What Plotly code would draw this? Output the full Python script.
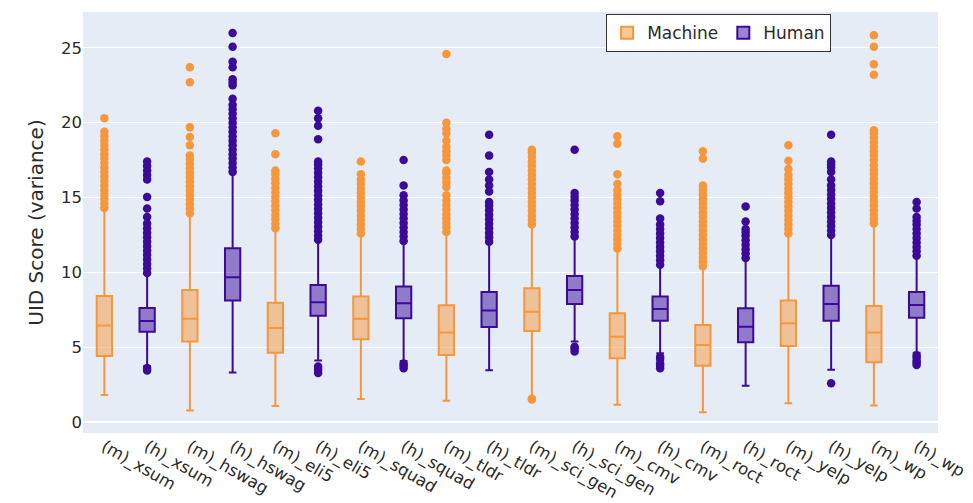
import plotly.graph_objects as go

m_labels = ["(m)_xsum", "(m)_hswag", "(m)_eli5", "(m)_squad", "(m)_tldr",
            "(m)_sci_gen", "(m)_cmv", "(m)_roct", "(m)_yelp", "(m)_wp"]
h_labels = ["(h)_xsum", "(h)_hswag", "(h)_eli5", "(h)_squad", "(h)_tldr",
            "(h)_sci_gen", "(h)_cmv", "(h)_roct", "(h)_yelp", "(h)_wp"]
category_order = [lab for pair in zip(m_labels, h_labels) for lab in pair]

# Machine box statistics
m_lower = [1.80, 0.76, 1.07, 1.54, 1.42, 1.63, 1.14, 0.65, 1.25, 1.09]
m_q1 = [4.41, 5.37, 4.63, 5.53, 4.48, 6.08, 4.26, 3.76, 5.08, 3.99]
m_median = [6.44, 6.89, 6.28, 6.89, 5.97, 7.37, 5.70, 5.15, 6.60, 5.97]
m_q3 = [8.42, 8.82, 7.97, 8.38, 7.80, 8.94, 7.27, 6.48, 8.11, 7.75]
m_upper = [14.3, 13.95, 12.95, 12.6, 12.7, 13.17, 11.61, 10.38, 12.6, 13.24]

# Human box statistics
h_lower = [3.74, 3.30, 4.10, 4.08, 3.45, 5.37, 4.59, 2.41, 3.48, 4.63]
h_q1 = [6.02, 8.11, 7.09, 6.93, 6.35, 7.89, 6.77, 5.33, 6.77, 6.97]
h_median = [6.75, 9.67, 8.00, 7.93, 7.44, 8.82, 7.55, 6.37, 7.89, 7.82]
h_q3 = [7.62, 11.61, 9.16, 9.05, 8.69, 9.76, 8.38, 7.60, 9.11, 8.69]
h_upper = [9.94, 16.69, 12.17, 12.1, 12.05, 12.39, 10.49, 10.94, 12.5, 11.1]

# Outliers
m_outliers = [
    [14.3, 14.6, 14.9, 15.2, 15.5, 15.8, 16.1, 16.4, 16.7, 17.0, 17.3, 17.6, 17.9, 18.2, 18.5, 18.8, 19.1, 19.4, 20.3],
    [13.95, 14.25, 14.55, 14.85, 15.15, 15.45, 15.75, 16.05, 16.35, 16.65, 16.95, 17.25, 17.55, 17.8, 18.5, 19.05, 19.7, 22.7, 23.7],
    [12.95, 13.25, 13.55, 13.85, 14.15, 14.45, 14.75, 15.05, 15.35, 15.65, 15.95, 16.25, 16.55, 16.8, 17.9, 19.3],
    [12.6, 12.9, 13.2, 13.5, 13.8, 14.1, 14.4, 14.7, 15.0, 15.3, 15.6, 15.9, 16.2, 16.55, 17.4],
    [12.7, 13.0, 13.3, 13.6, 13.9, 14.2, 14.5, 14.8, 15.15, 15.7, 16.0, 16.3, 16.6, 16.8, 17.5, 17.8, 18.1, 18.4, 18.8, 19.3, 19.6, 20.0, 24.6],
    [1.55, 1.5, 13.2, 13.5, 13.8, 14.1, 14.4, 14.7, 15.0, 15.3, 15.6, 15.9, 16.2, 16.5, 16.8, 17.1, 17.4, 17.7, 18.0, 18.2],
    [11.6, 11.9, 12.2, 12.5, 12.8, 13.1, 13.4, 13.7, 14.0, 14.3, 14.6, 14.9, 15.2, 15.5, 15.9, 16.55, 18.6, 19.1],
    [10.4, 10.7, 11.0, 11.3, 11.6, 11.9, 12.2, 12.5, 12.8, 13.1, 13.4, 13.7, 14.0, 14.3, 14.6, 14.9, 15.2, 15.5, 15.8, 17.6, 18.1],
    [12.6, 12.9, 13.2, 13.5, 13.8, 14.1, 14.4, 14.7, 15.0, 15.3, 15.6, 15.9, 16.2, 16.5, 16.9, 17.45, 18.5],
    [13.26, 13.55, 13.85, 14.15, 14.45, 14.75, 15.05, 15.35, 15.65, 15.95, 16.25, 16.55, 16.85, 17.15, 17.5, 17.8, 18.1, 18.4, 18.7, 19.0, 19.3, 19.5, 23.2, 23.9, 25.07, 25.85],
]
h_outliers = [
    [3.6, 3.43, 9.95, 10.25, 10.55, 10.85, 11.15, 11.45, 11.75, 12.05, 12.35, 12.65, 12.95, 13.26, 13.7, 14.26, 15.04, 16.2, 16.5, 16.8, 17.1, 17.4],
    [16.7, 17.0, 17.3, 17.6, 17.9, 18.2, 18.5, 18.8, 19.1, 19.4, 19.7, 20.0, 20.3, 20.6, 20.9, 21.2, 21.6, 22.5, 22.7, 22.9, 23.7, 24.07, 25.07, 26.0],
    [3.7, 3.5, 3.27, 12.17, 12.45, 12.75, 13.05, 13.35, 13.65, 13.95, 14.25, 14.55, 14.85, 15.15, 15.45, 15.75, 16.05, 16.35, 16.65, 16.95, 17.2, 17.4, 18.9, 19.8, 20.3, 20.8],
    [3.9, 3.75, 3.59, 12.1, 12.4, 12.7, 13.0, 13.3, 13.6, 13.9, 14.2, 14.5, 14.8, 15.15, 15.8, 17.5],
    [12.05, 12.35, 12.65, 12.95, 13.25, 13.55, 13.85, 14.15, 14.45, 14.7, 15.4, 15.8, 16.2, 16.7, 17.8, 19.2],
    [5.03, 4.9, 4.7, 12.4, 12.7, 13.0, 13.3, 13.6, 13.9, 14.2, 14.5, 14.8, 15.05, 15.3, 18.2],
    [4.36, 4.2, 3.9, 3.75, 3.59, 10.5, 10.8, 11.1, 11.4, 11.7, 12.0, 12.3, 12.6, 12.9, 13.2, 13.6, 14.75, 15.3],
    [10.95, 11.25, 11.55, 11.85, 12.15, 12.45, 12.7, 12.9, 13.4, 14.4],
    [2.59, 12.5, 12.8, 13.1, 13.4, 13.7, 14.0, 14.3, 14.6, 14.9, 15.2, 15.5, 15.8, 16.2, 16.7, 17.0, 17.2, 17.4, 19.2],
    [4.45, 4.3, 4.1, 3.95, 3.81, 11.1, 11.4, 11.7, 12.0, 12.3, 12.6, 12.9, 13.2, 13.45, 13.7, 14.26, 14.7],
]

ORANGE = "#f7963a"
PURPLE = "#3c0a99"

fig = go.Figure()
fig.add_trace(go.Box(
    name="Machine", x=m_labels, q1=m_q1, median=m_median, q3=m_q3,
    lowerfence=m_lower, upperfence=m_upper,
    line=dict(color=ORANGE, width=2), fillcolor="rgba(247,150,58,0.5)",
    marker=dict(color=ORANGE), hoverinfo="skip"))
fig.add_trace(go.Box(
    name="Human", x=h_labels, q1=h_q1, median=h_median, q3=h_q3,
    lowerfence=h_lower, upperfence=h_upper,
    line=dict(color=PURPLE, width=2), fillcolor="rgba(60,10,153,0.5)",
    marker=dict(color=PURPLE), hoverinfo="skip"))

for labels, outs, color in [(m_labels, m_outliers, ORANGE), (h_labels, h_outliers, PURPLE)]:
    xs = [lab for lab, vals in zip(labels, outs) for _ in vals]
    ys = [v for vals in outs for v in vals]
    fig.add_trace(go.Scatter(x=xs, y=ys, mode="markers", showlegend=False,
                             marker=dict(color=color, size=8.5), hoverinfo="skip"))

fig.update_layout(
    width=973, height=503,
    margin=dict(l=83, r=35, t=12, b=70, autoexpand=False),
    font=dict(family="DejaVu Sans", color="#2b2b2b", size=16),
    plot_bgcolor="#E5ECF6",
    paper_bgcolor="white",
    boxgap=0.49,
    boxmode="overlay",
    legend=dict(orientation="h", x=0.875, xanchor="right", y=0.995, yanchor="top",
                bgcolor="white", bordercolor="#333333", borderwidth=1,
                font=dict(size=17)),
)
fig.update_xaxes(categoryorder="array", categoryarray=category_order, automargin=False,
                 range=[-0.5, 19.5],
                 tickangle=30, showgrid=False, tickfont=dict(size=16.5))
fig.update_yaxes(title=dict(text="UID Score (variance)", font=dict(size=20), standoff=12),
                 automargin=False,
                 range=[-0.74, 27.4], dtick=5, gridcolor="white", zerolinecolor="white",
                 zerolinewidth=2, tickfont=dict(size=16.5))

fig.write_html("out.html", config={"displayModeBar": False},
               post_script="document.body.style.margin='0';")
